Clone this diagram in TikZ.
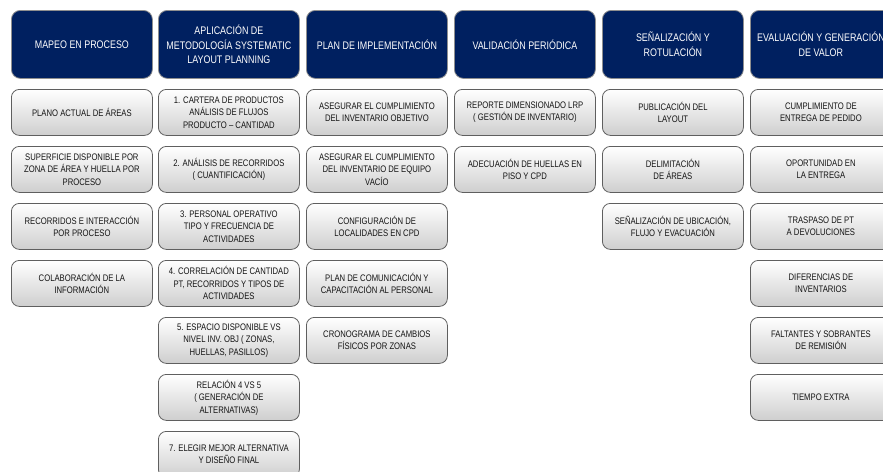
\documentclass[tikz,border=0pt]{standalone}
\usepackage{fontspec}
\setmainfont{Liberation Sans}[FakeStretch=0.81]
\definecolor{navy}{RGB}{0,32,96}
\definecolor{bord}{RGB}{95,95,95}
\definecolor{txt}{RGB}{20,20,20}
\tikzset{
  headbox/.style={draw=bord!70, line width=0.8pt, fill=navy, rounded corners=9pt,
    minimum width=141pt, minimum height=68pt, anchor=north west, text=white,
    align=center, font=\fontsize{11}{14.5}\selectfont, inner sep=1pt},
  itembox/.style={draw=bord, line width=0.8pt, top color=white, bottom color=black!19,
    rounded corners=8pt, minimum width=141pt, minimum height=46pt, anchor=north west,
    text=txt, align=center, font=\fontsize{9.5}{12.5}\selectfont, inner sep=1pt},
}
\begin{document}
\begin{tikzpicture}[x=1pt,y=-1pt]
\useasboundingbox (0,0) rectangle (883,471);
\clip (0,0) rectangle (883,471);
\fill[white] (0,0) rectangle (883,471);
% headers
\node[headbox] (h1) at (11,10) {MAPEO EN PROCESO};
\node[headbox] (h2) at (158,10) {APLICACIÓN DE\\METODOLOGÍA SYSTEMATIC\\LAYOUT PLANNING};
\node[headbox] (h3) at (306,10) {PLAN DE IMPLEMENTACIÓN};
\node[headbox] (h4) at (454,10) {VALIDACIÓN PERIÓDICA};
\node[headbox] (h5) at (602,10) {SEÑALIZACIÓN Y\\ROTULACIÓN};
\node[headbox] (h6) at (750,10) {EVALUACIÓN Y GENERACIÓN\\DE VALOR};
% column 1
\node[itembox] (a1) at (11,89) {PLANO ACTUAL DE ÁREAS};
\node[itembox] (a2) at (11,146) {SUPERFICIE DISPONIBLE POR\\ZONA DE ÁREA Y HUELLA POR\\PROCESO};
\node[itembox] (a3) at (11,203) {RECORRIDOS E INTERACCIÓN\\POR PROCESO};
\node[itembox] (a4) at (11,260) {COLABORACIÓN DE LA\\INFORMACIÓN};
% column 2
\node[itembox] (b1) at (158,89) {1. CARTERA DE PRODUCTOS\\ANÁLISIS DE FLUJOS\\PRODUCTO – CANTIDAD};
\node[itembox] (b2) at (158,146) {2. ANÁLISIS DE RECORRIDOS\\( CUANTIFICACIÓN)};
\node[itembox] (b3) at (158,203) {3. PERSONAL OPERATIVO\\TIPO Y FRECUENCIA DE\\ACTIVIDADES};
\node[itembox] (b4) at (158,260) {4. CORRELACIÓN DE CANTIDAD\\PT, RECORRIDOS Y TIPOS DE\\ACTIVIDADES};
\node[itembox] (b5) at (158,317) {5. ESPACIO DISPONIBLE VS\\NIVEL INV. OBJ ( ZONAS,\\HUELLAS, PASILLOS)};
\node[itembox] (b6) at (158,374) {RELACIÓN 4 VS 5\\( GENERACIÓN DE\\ALTERNATIVAS)};
\node[itembox] (b7) at (158,431) {7. ELEGIR MEJOR ALTERNATIVA\\Y DISEÑO FINAL};
% column 3
\node[itembox] (c1) at (306,89) {ASEGURAR EL CUMPLIMIENTO\\DEL INVENTARIO OBJETIVO};
\node[itembox] (c2) at (306,146) {ASEGURAR EL CUMPLIMIENTO\\DEL INVENTARIO DE EQUIPO\\VACÍO};
\node[itembox] (c3) at (306,203) {CONFIGURACIÓN DE\\LOCALIDADES EN CPD};
\node[itembox] (c4) at (306,260) {PLAN DE COMUNICACIÓN Y\\CAPACITACIÓN AL PERSONAL};
\node[itembox] (c5) at (306,317) {CRONOGRAMA DE CAMBIOS\\FÍSICOS POR ZONAS};
% column 4
\node[itembox] (d1) at (454,89) {REPORTE DIMENSIONADO LRP\\( GESTIÓN DE INVENTARIO)};
\node[itembox] (d2) at (454,146) {ADECUACIÓN DE HUELLAS EN\\PISO Y CPD};
% column 5
\node[itembox] (e1) at (602,89) {PUBLICACIÓN DEL\\LAYOUT};
\node[itembox] (e2) at (602,146) {DELIMITACIÓN\\DE ÁREAS};
\node[itembox] (e3) at (602,203) {SEÑALIZACIÓN DE UBICACIÓN,\\FLUJO Y EVACUACIÓN};
% column 6
\node[itembox] (f1) at (750,89) {CUMPLIMIENTO DE\\ENTREGA DE PEDIDO};
\node[itembox] (f2) at (750,146) {OPORTUNIDAD EN\\LA ENTREGA};
\node[itembox] (f3) at (750,203) {TRASPASO DE PT\\A DEVOLUCIONES};
\node[itembox] (f4) at (750,260) {DIFERENCIAS DE\\INVENTARIOS};
\node[itembox] (f5) at (750,317) {FALTANTES Y SOBRANTES\\DE REMISIÓN};
\node[itembox] (f6) at (750,374) {TIEMPO EXTRA};
\end{tikzpicture}
\end{document}
